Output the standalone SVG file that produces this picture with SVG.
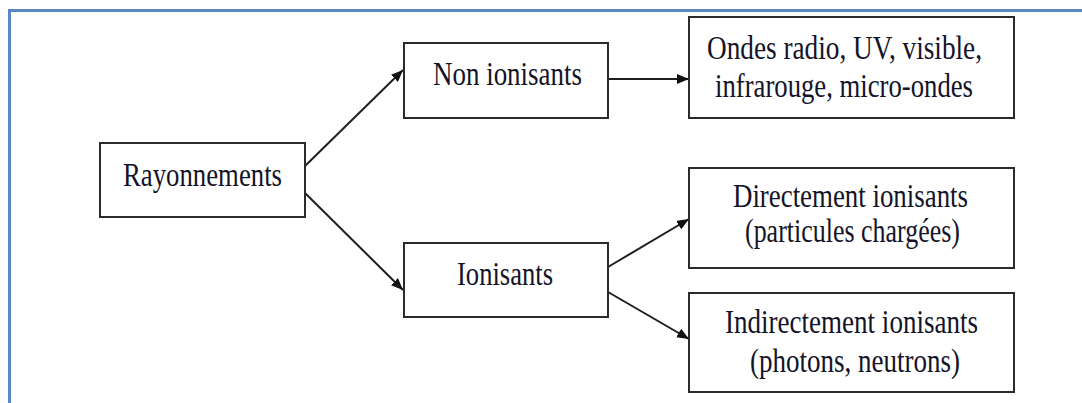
<svg xmlns="http://www.w3.org/2000/svg" width="1082" height="403" viewBox="0 0 1082 403">
<defs>
<style>
.box{fill:#fff;stroke:#2b2b2b;stroke-width:2}
.t{font-family:"Liberation Serif","Times New Roman",serif;font-size:33px;fill:#141428;text-anchor:middle}
.c{stroke:#1e1e1e;stroke-width:2;fill:none;marker-end:url(#ah)}
</style>
<marker id="ah" viewBox="0 0 12 10" refX="12" refY="5" markerWidth="12" markerHeight="10" markerUnits="userSpaceOnUse" orient="auto">
<path d="M0,0 L12,5 L0,10 Z" fill="#111"/>
</marker>
</defs>
<rect width="1082" height="403" fill="#fff"/>
<path d="M9.5,403 V10.5 H1082" fill="none" stroke="#5b86c4" stroke-width="3"/>
<g id="connectors">
<line class="c" x1="305" y1="166" x2="403" y2="70"/>
<line class="c" x1="305" y1="193" x2="403" y2="290"/>
<line class="c" x1="608" y1="79" x2="689" y2="79"/>
<line class="c" x1="608" y1="267" x2="689" y2="219"/>
<line class="c" x1="608" y1="292" x2="689" y2="339"/>
</g>
<g id="rayonnements">
<rect class="box" x="100" y="143" width="205" height="74"/>
<text class="t" x="202.5" y="186" textLength="159" lengthAdjust="spacingAndGlyphs">Rayonnements</text>
</g>
<g id="non-ionisants">
<rect class="box" x="404" y="43" width="204" height="75"/>
<text class="t" x="507.5" y="85" textLength="149" lengthAdjust="spacingAndGlyphs">Non ionisants</text>
</g>
<g id="ionisants">
<rect class="box" x="404" y="243" width="204" height="74"/>
<text class="t" x="505" y="285" textLength="96" lengthAdjust="spacingAndGlyphs">Ionisants</text>
</g>
<g id="ondes">
<rect class="box" x="689" y="17" width="325" height="101"/>
<text class="t" x="844.5" y="59" textLength="275" lengthAdjust="spacingAndGlyphs">Ondes radio, UV, visible,</text>
<text class="t" x="844" y="97" textLength="258" lengthAdjust="spacingAndGlyphs">infrarouge, micro-ondes</text>
</g>
<g id="directement">
<rect class="box" x="689" y="168" width="325" height="100"/>
<text class="t" x="850.5" y="207" textLength="235" lengthAdjust="spacingAndGlyphs">Directement ionisants</text>
<text class="t" x="852.5" y="242" textLength="215" lengthAdjust="spacingAndGlyphs">(particules chargées)</text>
</g>
<g id="indirectement">
<rect class="box" x="689" y="293" width="325" height="99"/>
<text class="t" x="851.5" y="333" textLength="253" lengthAdjust="spacingAndGlyphs">Indirectement ionisants</text>
<text class="t" x="855" y="372" textLength="210" lengthAdjust="spacingAndGlyphs">(photons, neutrons)</text>
</g>
</svg>
